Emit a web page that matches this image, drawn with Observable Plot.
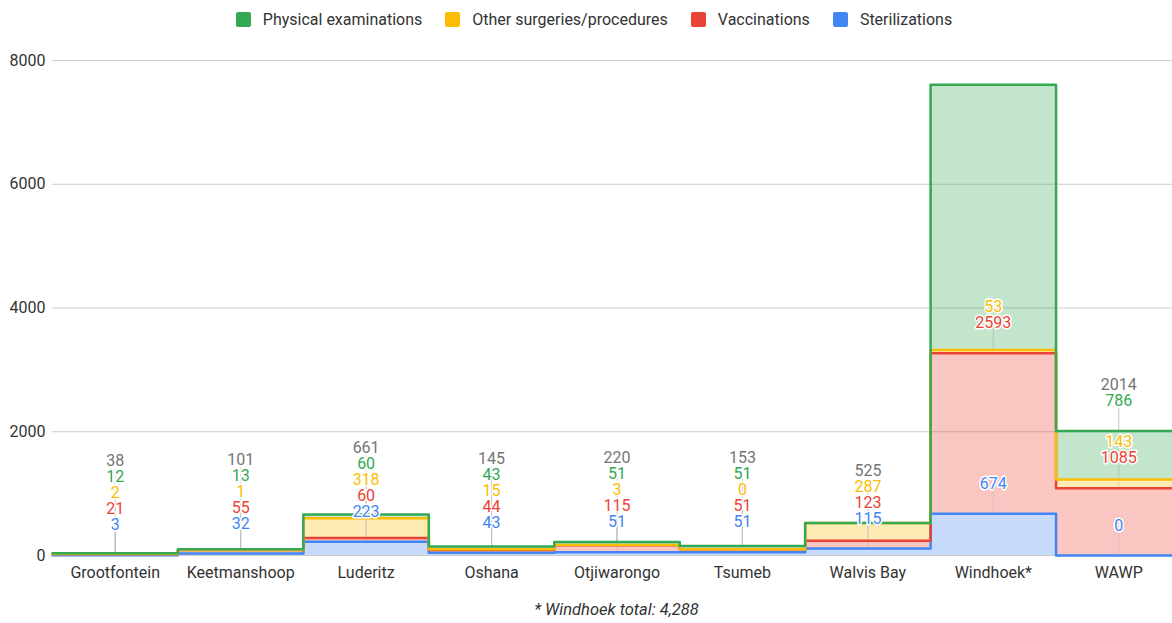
<!DOCTYPE html>
<html><head><meta charset="utf-8">
<script src="https://cdn.jsdelivr.net/npm/d3@7"></script>
<script src="https://cdn.jsdelivr.net/npm/@observablehq/plot@0.6"></script>
<style>
html,body{margin:0;padding:0;background:#fff;overflow:hidden}
body{font-family:Roboto,"Liberation Sans",Arial,sans-serif;color:#333}
#wrap{width:1172px;height:623px;overflow:hidden;position:relative}
#legend{width:1188px;height:38px;display:flex;justify-content:center;align-items:center;font-size:16px;color:#333}
.item{display:flex;align-items:center;margin:0 11.5px}
.sw{width:15px;height:15px;border-radius:2px;margin-right:12px}
#chart{position:absolute;left:0;top:36px;width:1181px}
#chart svg{display:block;overflow:visible;max-width:none !important;width:1181px}
#note{position:absolute;left:52px;width:1129px;top:600px;text-align:center;font-style:italic;font-size:16.5px;color:#333}
</style></head><body>
<div id="wrap"><div id="legend"></div><div id="chart"></div><div id="note">* Windhoek total: 4,288</div></div>
<script>
const categories = ["Grootfontein","Keetmanshoop","Luderitz","Oshana","Otjiwarongo","Tsumeb","Walvis Bay","Windhoek*","WAWP"];
const sterilizations = [3, 32, 223, 43, 51, 51, 115, 674, 0];
const vaccinations   = [21, 55, 60, 44, 115, 51, 123, 2593, 1085];
const otherProcedures = [2, 1, 318, 15, 3, 0, 287, 53, 143];
const physicalExams  = [12, 13, 60, 43, 51, 51, null, 4288, 786];
const yTicks = [0, 2000, 4000, 6000, 8000];
const seriesNames = ["Sterilizations", "Vaccinations", "Other surgeries/procedures", "Physical examinations"];
const seriesColors = ["#4285F4", "#EA4335", "#FBBC04", "#34A853"];
const totalName = "Total", totalColor = "#757575";

const seriesValues = [sterilizations, vaccinations, otherProcedures, physicalExams];

// legend (reverse order)
const legend = document.getElementById("legend");
for (let k = seriesNames.length - 1; k >= 0; k--) {
  const it = document.createElement("div"); it.className = "item";
  it.innerHTML = `<div class="sw" style="background:${seriesColors[k]}"></div><span>${seriesNames[k]}</span>`;
  legend.appendChild(it);
}

const W = 1181, H = 555, ml = 52, mt = 24, mb = 36;
const yPix = d3.scaleLinear([0, 8000], [H - mb, mt]);

const areaRows = [], labelRows = [], stemRows = [];
categories.forEach((c, i) => {
  let cum = 0, prev = Infinity;
  const place = (value, top, name) => {
    const ly = Math.min(yPix(top) - 30, prev - 16);
    prev = ly;
    if (ly - 8 < mt) return;
    labelRows.push({x: i + 0.5, y: yPix.invert(ly), text: String(value), series: name});
    stemRows.push({x: i + 0.5, y1: top, y2: yPix.invert(ly + 8)});
  };
  seriesNames.forEach((name, k) => {
    const v = seriesValues[k][i];
    const lo = cum, hi = cum + (v ?? 0);
    cum = hi;
    areaRows.push({series: name, x: i, y1: lo, y2: hi}, {series: name, x: i + 1, y1: lo, y2: hi});
    if (v != null) place(v, hi, name);
  });
  place(cum, cum, totalName);
});
const centers = categories.map((c, i) => i + 0.5);

const chart = Plot.plot({
  width: W, height: H, marginLeft: ml, marginRight: 0, marginTop: mt, marginBottom: mb,
  style: {fontFamily: "Roboto, 'Liberation Sans', Arial, sans-serif", fontSize: "16px", background: "transparent", maxWidth: "none"},
  x: {type: "linear", domain: [0, categories.length], label: null},
  y: {domain: [0, 8000], label: null},
  color: {domain: [...seriesNames, totalName], range: [...seriesColors, totalColor]},
  marks: [
    Plot.gridY(yTicks, {stroke: "#cccccc", strokeOpacity: 1}),
    Plot.axisY(yTicks, {tickSize: 0, tickPadding: 7, fontSize: 16, fill: "#333", tickFormat: d => String(d), label: null}),
    Plot.axisX(centers, {tickSize: 0, tickPadding: 11, fontSize: 16, fill: "#333", tickFormat: d => categories[Math.floor(d)], label: null}),
    Plot.areaY(areaRows, {x: "x", y1: "y1", y2: "y2", z: "series", fill: "series", fillOpacity: 0.3}),
    Plot.ruleX(stemRows, {x: "x", y1: "y1", y2: "y2", stroke: "#bbbbbb", strokeOpacity: 0.5, strokeWidth: 1}),
    Plot.line(areaRows, {x: "x", y: "y2", z: "series", stroke: "series", strokeWidth: 2.5, strokeLinejoin: "round", strokeLinecap: "round"}),
    Plot.text(labelRows, {x: "x", y: "y", text: "text", fill: "series", stroke: "white", strokeWidth: 3, fontSize: 16})
  ]
});
document.getElementById("chart").appendChild(chart);
</script>
</body></html>
